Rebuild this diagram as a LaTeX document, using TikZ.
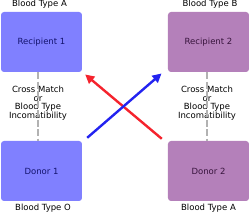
\documentclass[tikz,border=0pt]{standalone}
\usepackage{fontspec}
\setmainfont{DejaVu Sans}
\usetikzlibrary{positioning,arrows.meta}
\definecolor{pairblue}{RGB}{128,128,255}
\definecolor{pairbluetext}{RGB}{20,20,110}
\definecolor{pairpurple}{RGB}{180,128,186}
\definecolor{pairpurpletext}{RGB}{55,20,60}
\definecolor{exchred}{RGB}{245,35,45}
\definecolor{exchblue}{RGB}{35,35,240}
\begin{document}
\begin{tikzpicture}[x=1pt, y=-1pt, font=\fontsize{8.5}{8.6}\selectfont,
    pairbox/.style={rounded corners=3pt, minimum width=81pt, minimum height=60pt, inner sep=0pt},
    leftpair/.style={pairbox, fill=pairblue, text=pairbluetext},
    rightpair/.style={pairbox, fill=pairpurple, text=pairpurpletext},
    bloodtype/.style={inner sep=0pt},
    matchline/.style={draw=gray!60, line width=1.2pt, dash pattern=on 7pt off 2.5pt},
    exchange/.style={line width=2.4pt, -{Triangle[length=9pt,width=9pt]}}]
    \useasboundingbox (0,0) rectangle (250,213);
    \node[leftpair] (recip1) at (41.5,42) {Recipient 1};
    \node[rightpair] (recip2) at (208.5,42) {Recipient 2};
    \node[leftpair] (donor1) at (41.5,171) {Donor 1};
    \node[rightpair] (donor2) at (208.5,171) {Donor 2};
    \node[bloodtype, above=3.5pt of recip1, xshift=-2pt] (typeA1) {Blood Type A};
    \node[bloodtype, above=3.5pt of recip2, xshift=1.5pt] (typeB) {Blood Type B};
    \node[bloodtype, below=2.5pt of donor1, xshift=1.5pt] (typeO) {Blood Type O};
    \node[bloodtype, below=2.5pt of donor2] (typeA2) {Blood Type A};
    \node[align=center, inner sep=0pt] (match1) at (38,103) {Cross Match\\or\\Blood Type\\Incomatibility};
    \node[align=center, inner sep=0pt] (match2) at (207,103) {Cross Match\\or\\Blood Type\\Incomatibility};
    \draw[matchline] (recip1.south -| match1) -- (donor1.north -| match1);
    \draw[matchline] (recip2.south -| match2) -- (donor2.north -| match2);
    \draw[exchange, exchred] ([shift={(-6,-2)}]donor2.north west) -- ([shift={(3,2.3)}]recip1.south east);
    \draw[exchange, exchblue] ([shift={(5,-3)}]donor1.north east) -- ([shift={(-6.3,1.3)}]recip2.south west);
\end{tikzpicture}
\end{document}
